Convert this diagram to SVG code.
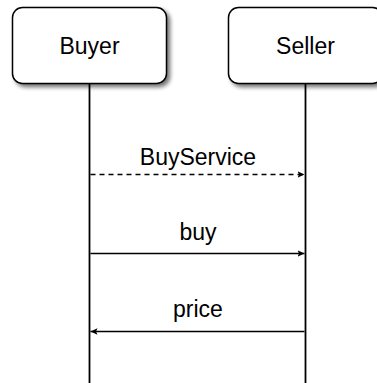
<svg xmlns="http://www.w3.org/2000/svg" width="377" height="383" viewBox="0 0 377 383">
  <style>
    .box { fill: #ffffff; stroke: #000000; stroke-width: 1.5; }
    .label { font-family: "Liberation Sans", Arial, sans-serif; font-size: 23px; fill: #000000; text-anchor: middle; }
    .life { stroke: #000000; stroke-width: 1.8; fill: none; }
    .msg { stroke: #000000; stroke-width: 1.4; fill: none; }
    .dash { stroke-dasharray: 5 4; }
  </style>
  <defs>
    <filter id="shadow" x="-20%" y="-20%" width="150%" height="160%">
      <feGaussianBlur in="SourceAlpha" stdDeviation="2.2"/>
      <feOffset dx="3" dy="3" result="blur"/>
      <feComponentTransfer><feFuncA type="linear" slope="0.55"/></feComponentTransfer>
      <feMerge><feMergeNode/><feMergeNode in="SourceGraphic"/></feMerge>
    </filter>
    <marker id="head" markerWidth="8" markerHeight="8" refX="7" refY="4" orient="auto" markerUnits="userSpaceOnUse">
      <path d="M0,0.8 L7,4 L0,7.2 L1.5,4 Z" fill="#000000"/>
    </marker>
  </defs>

  <g id="lifelines">
    <line class="life" x1="89.5" y1="84" x2="89.5" y2="383"/>
    <line class="life" x1="305.5" y1="84" x2="305.5" y2="383"/>
  </g>

  <g id="buyer">
    <rect class="box" x="12.5" y="7.5" width="154" height="76" rx="10" ry="10" filter="url(#shadow)"/>
    <text class="label" x="89.5" y="54">Buyer</text>
  </g>

  <g id="seller">
    <rect class="box" x="228.5" y="7.5" width="154" height="76" rx="10" ry="10" filter="url(#shadow)"/>
    <text class="label" x="305.5" y="54">Seller</text>
  </g>

  <g id="connectors">
    <line class="msg dash" x1="90.5" y1="174.5" x2="304.5" y2="174.5" marker-end="url(#head)"/>
    <text class="label" x="198" y="165">BuyService</text>
    <line class="msg" x1="90.5" y1="253.5" x2="304.5" y2="253.5" marker-end="url(#head)"/>
    <text class="label" x="198" y="240">buy</text>
    <line class="msg" x1="304.5" y1="331.5" x2="90.5" y2="331.5" marker-end="url(#head)"/>
    <text class="label" x="198" y="317">price</text>
  </g>
</svg>
